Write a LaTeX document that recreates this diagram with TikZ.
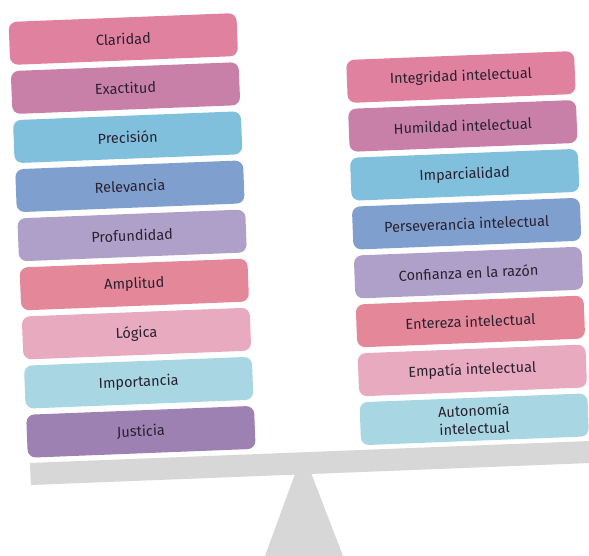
\documentclass[tikz,border=0pt]{standalone}
\usepackage{fontspec}
\setmainfont{Fira Sans}
\definecolor{cPink}{HTML}{E0819F}
\definecolor{cMauve}{HTML}{C880A8}
\definecolor{cSky}{HTML}{80C0DC}
\definecolor{cBlue}{HTML}{7F9FCE}
\definecolor{cLav}{HTML}{AEA0C8}
\definecolor{cRose}{HTML}{E48899}
\definecolor{cLight}{HTML}{E8AABF}
\definecolor{cPale}{HTML}{A8D6E3}
\definecolor{cPurple}{HTML}{9D81B2}
\definecolor{cText}{HTML}{2A2130}
\definecolor{cBeam}{HTML}{D7D7D7}
\tikzset{
  valuebox/.style={draw=none, rounded corners=8pt, minimum width=228pt,
    minimum height=43pt, inner sep=0pt, rotate=2.25, align=center,
    text=cText, font=\fontsize{14.5}{18}\selectfont},
}
\begin{document}
\begin{tikzpicture}[x=1pt,y=-1pt]
\useasboundingbox (0,0) rectangle (589,556);
\fill[white] (0,0) rectangle (589,556);

% fulcrum and beam
\fill[cBeam] (303,452) -- (343,556) -- (265,556) -- cycle;
\fill[cBeam] (30,463) -- (600,440.6) -- (600.9,462.6) -- (30.9,485) -- cycle;

% intellectual standards
\node[valuebox, fill=cPink]   (clar) at (123.3,39.0)  {Claridad};
\node[valuebox, fill=cMauve]  (exac) at (125.5,88.1)  {Exactitud};
\node[valuebox, fill=cSky]    (prec) at (127.7,137.2) {Precisión};
\node[valuebox, fill=cBlue]   (rele) at (129.9,186.3) {Relevancia};
\node[valuebox, fill=cLav]    (prof) at (132.1,235.4) {Profundidad};
\node[valuebox, fill=cRose]   (ampl) at (134.3,284.5) {Amplitud};
\node[valuebox, fill=cLight]  (logi) at (136.5,333.6) {Lógica};
\node[valuebox, fill=cPale]   (impo) at (138.7,382.7) {Importancia};
\node[valuebox, fill=cPurple] (just) at (140.9,431.8) {Justicia};

% intellectual traits
\node[valuebox, fill=cPink]  (inte) at (460.9,77.0)  {Integridad intelectual};
\node[valuebox, fill=cMauve] (humi) at (462.8,125.9) {Humildad intelectual};
\node[valuebox, fill=cSky]   (impa) at (464.7,174.8) {Imparcialidad};
\node[valuebox, fill=cBlue]  (pers) at (466.6,223.7) {Perseverancia intelectual};
\node[valuebox, fill=cLav]   (conf) at (468.5,272.6) {Confianza en la razón};
\node[valuebox, fill=cRose]  (ente) at (470.4,321.5) {Entereza intelectual};
\node[valuebox, fill=cLight] (empa) at (472.3,370.4) {Empatía intelectual};
\node[valuebox, fill=cPale]  (auto) at (474.2,419.3) {Autonomía\\intelectual};
\end{tikzpicture}
\end{document}
